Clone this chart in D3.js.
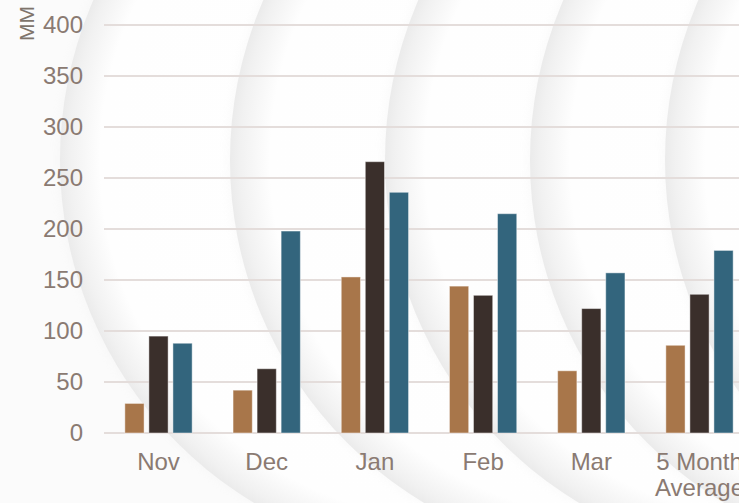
<!DOCTYPE html>
<html>
<head>
<meta charset="utf-8">
<script src="https://cdn.jsdelivr.net/npm/d3@7"></script>
<style>
  html, body { margin: 0; padding: 0; background: #ffffff; }
  svg { display: block; }
  text { font-family: "Liberation Sans", Arial, sans-serif; }
</style>
</head>
<body>
<svg id="chart" width="739" height="503"></svg>
<script>
// ---- data ----
const categories = ["Nov", "Dec", "Jan", "Feb", "Mar", "5 Month Average"];
const seriesNames = ["Series A", "Series B", "Series C"];
const seriesA = [29, 42, 153, 144, 61, 86];
const seriesB = [95, 63, 266, 135, 122, 136];
const seriesC = [88, 198, 236, 215, 157, 179];
const yTicks = [0, 50, 100, 150, 200, 250, 300, 350, 400];
const yLabel = "MM";

const colors = ["#a8764a", "#3a2f2b", "#33657d"];
const textColor = "#8a7a72";

const W = 739, H = 503;
const svg = d3.select("#chart");
const defs = svg.append("defs");

// ---- decorative background ----
const rg = defs.append("radialGradient").attr("id", "disc")
  .attr("cx", "0.5").attr("cy", "0.5").attr("r", "0.5");
rg.append("stop").attr("offset", "0").attr("stop-color", "#ffffff");
rg.append("stop").attr("offset", "0.9").attr("stop-color", "#fefefe");
rg.append("stop").attr("offset", "0.975").attr("stop-color", "#f1f1f1");
rg.append("stop").attr("offset", "1").attr("stop-color", "#ebebeb");
const blur = defs.append("filter").attr("id", "soft")
  .attr("x", "-20%").attr("y", "-20%").attr("width", "140%").attr("height", "140%");
blur.append("feGaussianBlur").attr("stdDeviation", 5);

svg.append("rect").attr("width", W).attr("height", H).attr("fill", "#fbfbfb");
const bg = svg.append("g");
const discLeft = [60, 230, 385, 530, 665];
const R = 400, CY = 160;
discLeft.forEach(lx => {
  bg.append("circle").attr("cx", lx + R - 2).attr("cy", CY).attr("r", R)
    .attr("fill", "#e6e6e6").attr("opacity", 0.2).attr("filter", "url(#soft)");
  bg.append("circle").attr("cx", lx + R).attr("cy", CY).attr("r", R)
    .attr("fill", "url(#disc)");
});

// ---- scales ----
const x0 = d3.scaleBand().domain(categories).range([104.4, 753.6]).padding(0);
const groupW = 67.3;
const x1 = d3.scaleBand().domain(seriesNames)
  .range([(x0.bandwidth() - groupW) / 2, (x0.bandwidth() + groupW) / 2])
  .paddingInner(0.2).paddingOuter(0);
const y = d3.scaleLinear().domain([0, 400]).range([433, 25]);

// ---- grid ----
const grid = svg.append("g");
grid.selectAll("line").data(yTicks).join("line")
  .attr("x1", 104).attr("x2", W)
  .attr("y1", d => y(d)).attr("y2", d => y(d))
  .attr("stroke", "#e4dddb").attr("stroke-width", 2);

// ---- y axis labels ----
const yAxis = d3.axisLeft(y).tickValues(yTicks).tickSize(0).tickPadding(0);
const yg = svg.append("g").attr("transform", "translate(83,0)").call(yAxis);
yg.select(".domain").remove();
yg.selectAll("text")
  .attr("fill", textColor)
  .style("font-size", "24px")
  .style("font-family", '"Liberation Sans", Arial, sans-serif');

svg.append("text")
  .attr("transform", "translate(34,23.5) rotate(-90)")
  .attr("text-anchor", "middle")
  .attr("fill", "#7e746b")
  .style("font-size", "21px")
  .text(yLabel);

// ---- bars ----
const series = [seriesA, seriesB, seriesC];
const groups = svg.append("g").selectAll("g").data(categories).join("g")
  .attr("transform", d => `translate(${x0(d)},0)`);
groups.selectAll("rect")
  .data((c, i) => series.map((s, k) => ({ name: seriesNames[k], v: s[i], k })))
  .join("rect")
  .attr("x", d => x1(d.name))
  .attr("width", x1.bandwidth())
  .attr("y", d => y(d.v))
  .attr("height", d => y(0) - y(d.v))
  .attr("fill", d => colors[d.k])
  .attr("stroke", "#ffffff").attr("stroke-opacity", 0.45).attr("stroke-width", 1);

// ---- category labels ----
const xl = svg.append("g");
categories.forEach(c => {
  const cx = x0(c) + x0.bandwidth() / 2;
  const t = xl.append("text")
    .attr("x", cx)
    .attr("y", 470)
    .attr("text-anchor", "middle")
    .attr("fill", textColor)
    .style("font-size", "24px");
  if (c === "5 Month Average") {
    t.append("tspan").attr("x", cx).text("5 Month");
    t.append("tspan").attr("x", cx).attr("dy", 26).text("Average");
  } else {
    t.text(c);
  }
});
</script>
</body>
</html>
